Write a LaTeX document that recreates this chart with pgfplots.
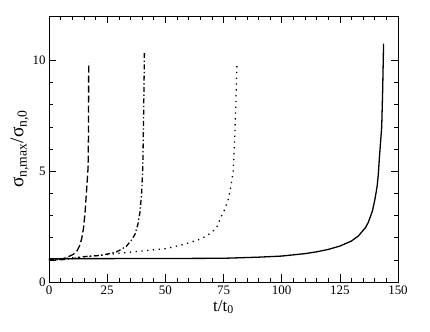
\documentclass[border=0pt]{standalone}
\usepackage{pgfplots}
\pgfplotsset{compat=1.18}
\usepackage{fontspec}
\setmainfont{Liberation Serif}
\begin{document}
\begin{tikzpicture}
\begin{axis}[
  scale only axis, width=349bp, height=266bp,
  xmin=0, xmax=150, ymin=0, ymax=12,
  xtick={0,25,...,150}, ytick={0,5,10},
  minor x tick num=4, minor y tick num=4,
  tick align=inside, major tick length=7.5bp, minor tick length=4bp,
  every tick/.style={black, line width=0.5pt},
  axis line style={line width=0.9pt},
  ticklabel style={font=\fontsize{13}{15}\selectfont},
  /pgf/number format/assume math mode=true,
  xlabel={\fontsize{17}{19}\selectfont t/t\textsubscript{0}},
  ylabel={\fontsize{19.5}{21}\selectfont σ\textsubscript{n,max}/σ\textsubscript{n,0}},
  xlabel style={yshift=1bp},
  ylabel style={yshift=-3bp},
]
\addplot[black, line width=1.3bp] coordinates {
(0,1.05) (50,1.06) (75,1.07) (90,1.12) (100,1.17) (110,1.28) (115,1.36) (120,1.47) (125,1.62) (130,1.85) (133,2.08) (136,2.45) (137.2,2.68) (139,3.2) (140.1,3.74) (141,4.3) (141.5,4.8) (142,5.6) (142.5,6.3) (143,7.0) (143.4,8.6) (143.8,10.75)};
\addplot[black, line width=1.3bp, dash pattern=on 1.3bp off 4.5bp] coordinates {
(0,1.0) (5,1.05) (10.4,1.1) (21.9,1.2) (36.2,1.36) (50.6,1.51) (58,1.7) (64.9,1.93) (68,2.1) (70.6,2.31) (72.1,2.46) (73.5,2.84) (75.6,3.29) (77.1,3.74) (78.3,4.4) (79.2,5.02) (79.8,6.5) (80.3,8.0) (80.8,9.92)};
\addplot[black, line width=1.3bp, dash pattern=on 5bp off 2.5bp on 1.3bp off 2.5bp] coordinates {
(0,1.0) (5,1.0) (10,1.05) (14.6,1.14) (21.9,1.2) (26,1.28) (29.1,1.36) (31.5,1.5) (33.4,1.63) (35.5,1.9) (37.0,2.16) (38.2,2.6) (39.1,3.14) (39.8,4.0) (40.3,5.17) (40.6,7) (40.8,8.5) (41.0,10.35)};
\addplot[black, line width=1.3bp, dash pattern=on 7bp off 3bp] coordinates {
(0,1.0) (3,0.98) (6,1.05) (8.5,1.15) (10.5,1.25) (11.9,1.38) (13,1.6) (14.0,1.93) (14.8,2.4) (15.5,3.14) (16.2,4.2) (16.8,5.17) (17.0,7) (17.05,9.9)};
\end{axis}
\path (current axis.south west) +(-49bp,-50bp) (current axis.north east) +(32bp,16bp);
\end{tikzpicture}
\end{document}
